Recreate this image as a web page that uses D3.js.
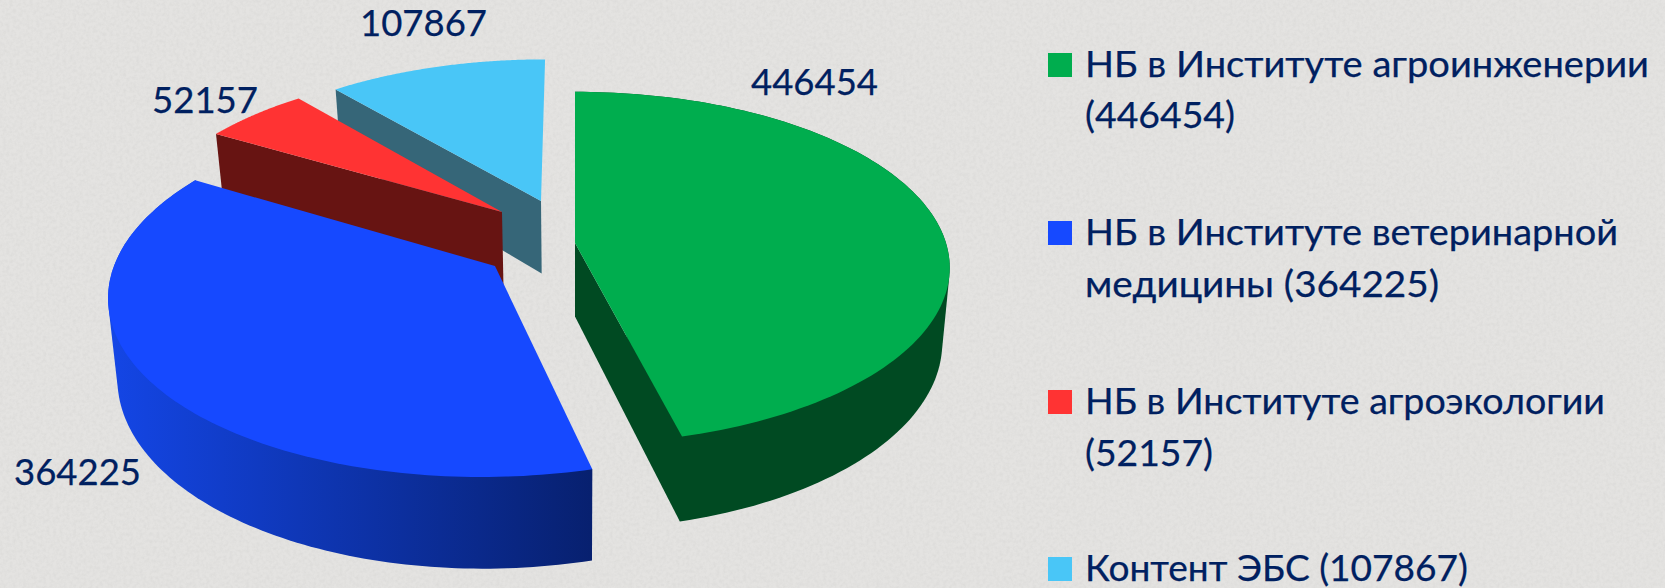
<!DOCTYPE html>
<html>
<head>
<meta charset="utf-8">
<script src="https://cdn.jsdelivr.net/npm/d3@7"></script>
<style>
  html, body { margin: 0; padding: 0; background: #dfdeDc; }
  svg { display: block; }
  text { font-family: Lato, "Open Sans", "Noto Sans", sans-serif; fill: #002060; stroke: #002060; stroke-width: 0.25; }
</style>
</head>
<body>
<svg id="chart" width="1665" height="588"></svg>
<script>
var categories = ["НБ в Институте агроинженерии", "НБ в Институте ветеринарной медицины", "НБ в Институте агроэкологии", "Контент ЭБС"];
var values = [446454, 364225, 52157, 107867];
var topColors = ["#00ad4e", "#1649ff", "#ff3333", "#49c6f7"];
var wallColors = ["#004a22", "#0b2c9c", "#671412", "#366678"];
var rimLeft = ["#004a22", "#1446e6", "#671412", "#366678"];
var rimRight = ["#004a22", "#07206f", "#671412", "#366678"];

// how far each slice is pulled out, in units of the pie radius on the floor
var explodeX = [0, -0.2117, -0.2019, -0.0949];
var explodeZ = [0, 0.1309, -0.1844, -0.2521];
var radiusK = [1, 1.008, 1, 1];
var wallHeights = [73.5, 77, 75, 75];

var legendLines = [
  ["НБ в Институте агроинженерии", "(446454)"],
  ["НБ в Институте ветеринарной", "медицины (364225)"],
  ["НБ в Институте агроэкологии", "(52157)"],
  ["Контент ЭБС (107867)"]
];
var legendWidths = [[564, 150], [533, 354], [520, 128], [383]];
var legendBaselines = [[77, 128], [245, 297], [414, 466], [581]];
var labelX = [751, 14, 152, 360];
var labelY = [95, 485, 113, 36];
var labelW = [127, 127, 106, 127];

var width = 1665, height = 588;
var x0 = 575, y0 = 243, persp = 0.1408, wallShrink = 0.98;

var svg = d3.select("#chart");
var defs = svg.append("defs");

// paper grain
var grain = defs.append("filter").attr("id", "grain")
  .attr("x", 0).attr("y", 0).attr("width", "100%").attr("height", "100%");
grain.append("feTurbulence").attr("type", "fractalNoise").attr("baseFrequency", 0.3)
  .attr("numOctaves", 4).attr("seed", 4);
grain.append("feColorMatrix").attr("type", "matrix")
  .attr("values", "0 0 0 0 0.46  0 0 0 0 0.46  0 0 0 0 0.45  0.6 0 0 0 -0.22");

svg.append("rect").attr("width", width).attr("height", height).attr("fill", "#e4e3e1");
svg.append("rect").attr("width", width).attr("height", height).attr("filter", "url(#grain)").attr("opacity", 0.5);

var scaleX = d3.scaleLinear().domain([0, 1]).range([x0, x0 + 371]);
var scaleZ = d3.scaleLinear().domain([0, 1]).range([y0, y0 + 172.5]);

function floorPoint(i, r, a) {
  return [explodeX[i] + r * Math.sin(a), explodeZ[i] - r * Math.cos(a)];
}
function topPoint(p) {
  var w = 1 - persp * p[1];
  return [scaleX(p[0] / w), scaleZ(p[1] / w)];
}
function bottomPoint(p, h) {
  var w = 1 - persp * p[1];
  var t = topPoint(p);
  return [x0 + (t[0] - x0) * wallShrink, t[1] + h / w];
}

var pie = d3.pie().sort(null).value(function(d) { return d; });
var arcs = pie(values);
var line = d3.line();

function arcPoints(i, a0, a1) {
  return d3.range(0, 121).map(function(k) {
    return floorPoint(i, radiusK[i], a0 + (a1 - a0) * k / 120);
  });
}

// painted from back to front
[3, 2, 1, 0].forEach(function(i) {
  var d = arcs[i];
  var h = wallHeights[i];
  var rim = arcPoints(i, d.startAngle, d.endAngle);
  var apex = floorPoint(i, 0, 0);
  var g = svg.append("g").attr("class", "slice");
  var bottom = function(p) { return bottomPoint(p, h); };

  // radial walls, only those turned towards the viewer
  if (-Math.sin(d.startAngle) > 0.01) {
    var wallA = [topPoint(apex), topPoint(rim[0]), bottom(rim[0]), bottom(apex)];
    g.append("path").attr("d", line(wallA) + "Z").attr("fill", wallColors[i]);
  }
  if (Math.sin(d.endAngle) > 0.01) {
    var wallB = [topPoint(apex), topPoint(rim[120]), bottom(rim[120]), bottom(apex)];
    g.append("path").attr("d", line(wallB) + "Z").attr("fill", wallColors[i]);
  }

  // outer wall, only when the rim passes the front half
  if (d.startAngle < Math.PI * 1.5 && d.endAngle > Math.PI * 0.5) {
    var hull = d3.polygonHull(rim.map(topPoint).concat(rim.map(bottom)));
    var xs = rim.map(topPoint).map(function(p) { return p[0]; });
    var grad = defs.append("linearGradient").attr("id", "rim" + i)
      .attr("gradientUnits", "userSpaceOnUse")
      .attr("x1", d3.min(xs)).attr("x2", d3.max(xs))
      .attr("y1", 0).attr("y2", 0);
    grad.append("stop").attr("offset", 0).attr("stop-color", rimLeft[i]);
    grad.append("stop").attr("offset", 1).attr("stop-color", rimRight[i]);
    g.append("path").attr("d", line(hull) + "Z").attr("fill", "url(#rim" + i + ")");
  }

  // top face
  var top = [topPoint(apex)].concat(rim.map(topPoint));
  g.append("path").attr("d", line(top) + "Z").attr("fill", topColors[i]);
});

// value labels
svg.selectAll("text.label").data(values).enter().append("text")
  .attr("class", "label")
  .attr("x", function(d, i) { return labelX[i]; })
  .attr("y", function(d, i) { return labelY[i]; })
  .attr("font-size", 36)
  .attr("textLength", function(d, i) { return labelW[i]; })
  .attr("lengthAdjust", "spacingAndGlyphs")
  .text(function(d) { return d; });

// legend
var legend = svg.selectAll("g.legend").data(categories).enter().append("g").attr("class", "legend");
legend.append("rect")
  .attr("x", 1048)
  .attr("y", function(d, i) { return legendBaselines[i][0] - 24; })
  .attr("width", 24).attr("height", 24)
  .attr("fill", function(d, i) { return topColors[i]; });
legend.each(function(d, i) {
  d3.select(this).selectAll("text").data(legendLines[i]).enter().append("text")
    .attr("x", 1085)
    .attr("y", function(t, j) { return legendBaselines[i][j]; })
    .attr("font-size", 36)
    .attr("textLength", function(t, j) { return legendWidths[i][j]; })
    .attr("lengthAdjust", "spacingAndGlyphs")
    .text(function(t) { return t; });
});
</script>
</body>
</html>
